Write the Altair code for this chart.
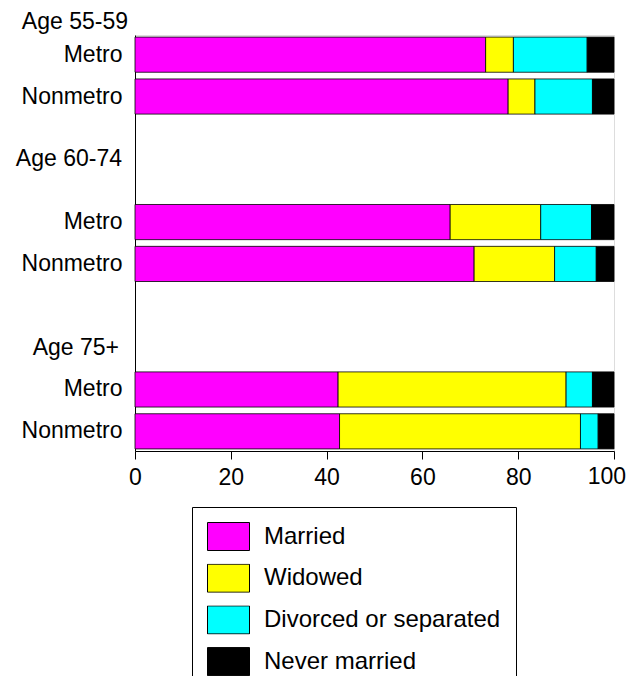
import altair as alt
import pandas as pd

groups = ["Age 55-59", "Age 60-74", "Age 75+"]
areas = ["Metro", "Nonmetro"]
statuses = ["Married", "Widowed", "Divorced or separated", "Never married"]
colors = ["#FF00FF", "#FFFF00", "#00FFFF", "#000000"]
ticks = [0, 20, 40, 60, 80, 100]

# row order: 55-59 Metro, 55-59 Nonmetro, 60-74 Metro, 60-74 Nonmetro, 75+ Metro, 75+ Nonmetro
married = [73.2, 77.9, 65.8, 70.8, 42.4, 42.7]
widowed = [5.8, 5.6, 18.9, 16.8, 47.6, 50.3]
divorced = [15.4, 12.0, 10.6, 8.7, 5.5, 3.7]
never = [5.6, 4.5, 4.7, 3.7, 4.5, 3.3]

row_keys = ["55-59 Metro", "55-59 Nonmetro", "gap1", "gap2",
            "60-74 Metro", "60-74 Nonmetro", "gap3", "gap4",
            "75+ Metro", "75+ Nonmetro"]

series = [married, widowed, divorced, never]
records = []
i = 0
for g in groups:
    for a in areas:
        key = g.replace("Age ", "") + " " + a
        for si, (s, vals) in enumerate(zip(statuses, series)):
            records.append({"row": key, "status": s, "idx": si, "value": vals[i]})
        i += 1
df = pd.DataFrame(records)

FONT = "Liberation Sans"
FS = 23
LFS = 24

yscale = alt.Scale(domain=row_keys, paddingInner=0.16, paddingOuter=0.05)
xscale = alt.Scale(domain=[0, 100], nice=False)

bars = alt.Chart(df).mark_bar(stroke="black", strokeWidth=0.8).encode(
    x=alt.X("value:Q", stack="zero", scale=xscale,
            axis=alt.Axis(values=ticks, grid=False, title=None,
                          tickSize=8, tickColor="black", domainColor="black",
                          labelFontSize=FS, labelPadding=7, labelColor="black",
                          labelFont=FONT, labelFlush=False,
                          labelExpr="datum.value == 100 ? '' : datum.label")),
    y=alt.Y("row:N", scale=yscale,
            axis=alt.Axis(title=None, ticks=False, domainColor="black",
                          labelExpr="indexof(datum.value, 'gap') == 0 ? '' : split(datum.value, ' ')[1]",
                          labelPadding=13, labelFontSize=FS, labelColor="black",
                          labelFont=FONT)),
    color=alt.Color("status:N", scale=alt.Scale(domain=statuses, range=colors),
                    legend=alt.Legend(title=None, orient="none", legendX=57, legendY=472,
                                      padding=15, strokeColor="black",
                                      labelFontSize=LFS, labelFont=FONT, labelColor="black",
                                      symbolType="M-1,-0.667H1V0.667H-1Z", symbolSize=1764,
                                      symbolStrokeColor="black", symbolStrokeWidth=1,
                                      symbolOpacity=1, labelOffset=14,
                                      clipHeight=29, rowPadding=12.7,
                                      labelLimit=400)),
    order=alt.Order("idx:Q"),
)

hdr55 = pd.DataFrame({"row": ["55-59 Metro"], "label": [groups[0]]})
hdr60 = pd.DataFrame({"row": ["gap1"], "label": [groups[1]]})
hdr75 = pd.DataFrame({"row": ["gap4"], "label": [groups[2]]})

def header(d, dx, dy):
    return alt.Chart(d).mark_text(align="right", baseline="middle", fontSize=FS,
                                  font=FONT, color="black", dx=dx, dy=dy).encode(
        x=alt.datum(0), y=alt.Y("row:N", scale=yscale), text="label:N")

# last tick label kept inside the page edge
last_tick = pd.DataFrame({"row": [row_keys[-1]], "v": [ticks[-1]], "label": [str(ticks[-1])]})
last_lbl = alt.Chart(last_tick).mark_text(
    align="right", baseline="top", fontSize=FS, font=FONT, color="black", dx=12, dy=35
).encode(x=alt.X("v:Q", scale=xscale), y=alt.Y("row:N", scale=yscale), text="label:N")

chart = alt.layer(
    bars,
    header(hdr55, -7, -33),
    header(hdr60, -13, 21),
    header(hdr75, -16, 0),
    last_lbl,
).properties(
    width=479, height=416,
    autosize=alt.AutoSizeParams(type="none"),
    padding={"left": 127, "top": 27, "right": 12, "bottom": 225},
).configure_view(stroke=None).configure(font=FONT)

chart.save("out.html", embed_options={"renderer": "svg", "actions": False})
